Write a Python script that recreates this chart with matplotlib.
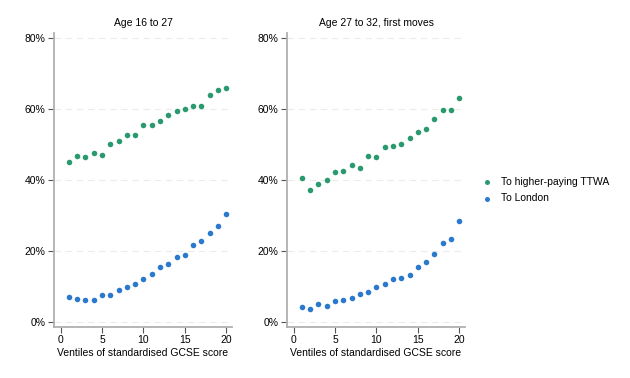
import numpy as np
import matplotlib
matplotlib.use("Agg")
import matplotlib.pyplot as plt
from matplotlib.ticker import FuncFormatter

# Ventiles of standardised GCSE score
ventiles = list(range(1, 21))

# Age 16 to 27 (share, %)
ttwa_young = [45.1, 46.9, 46.4, 47.5, 47.0, 50.1, 50.9, 52.6, 52.6, 55.6,
              55.6, 56.7, 58.4, 59.3, 60.1, 60.7, 60.9, 63.8, 65.3, 65.9]
london_young = [7.1, 6.5, 6.3, 6.4, 7.8, 7.6, 9.2, 10.0, 10.7, 12.3,
                13.7, 15.5, 16.5, 18.3, 19.0, 21.8, 23.0, 25.1, 27.2, 30.5]

# Age 27 to 32, first moves (share, %)
ttwa_old = [40.7, 37.2, 38.9, 40.1, 42.2, 42.6, 44.2, 43.3, 46.8, 46.6,
            49.2, 49.7, 50.1, 51.8, 53.4, 54.3, 57.3, 59.6, 59.6, 63.1]
london_old = [4.4, 3.8, 5.1, 4.7, 5.9, 6.3, 6.9, 7.9, 8.5, 9.8,
              10.8, 12.1, 12.5, 13.3, 15.5, 17.0, 19.2, 22.2, 23.5, 28.4]

titles = ["Age 16 to 27", "Age 27 to 32, first moves"]
series_labels = ["To higher-paying TTWA", "To London"]
green = "#2a9a6e"
blue = "#2b79cc"

plt.rcParams['font.family'] = ['Liberation Sans', 'DejaVu Sans']

fig = plt.figure(figsize=(6.3, 3.78), dpi=100)
ax1 = fig.add_axes([0.0857, 0.135, 0.2825, 0.778])
ax2 = fig.add_axes([0.4556, 0.135, 0.2825, 0.778])

panels = [(ax1, ttwa_young, london_young), (ax2, ttwa_old, london_old)]
for i, (ax, ttwa, london) in enumerate(panels):
    ax.scatter(ventiles, ttwa, s=16, color=green, linewidths=0, label=series_labels[0], zorder=3)
    ax.scatter(ventiles, london, s=16, color=blue, linewidths=0, label=series_labels[1], zorder=3)
    ax.set_xlim(-0.8, 20.7)
    ax.set_ylim(-1.3, 81.4)
    ax.set_xticks([0, 5, 10, 15, 20])
    ax.set_yticks([0, 20, 40, 60, 80])
    ax.yaxis.set_major_formatter(FuncFormatter(lambda v, p: f"{v:.0f}%"))
    ax.grid(axis='y', color='#ececec', linestyle=(0, (6, 4)), linewidth=0.8)
    ax.set_axisbelow(True)
    for s in ['top', 'right']:
        ax.spines[s].set_visible(False)
    for s in ['left', 'bottom']:
        ax.spines[s].set_color('#b0b0b0')
        ax.spines[s].set_linewidth(1.3)
    ax.tick_params(axis='both', labelsize=7.5, length=4, width=0.8, color='#555555', pad=2)
    ax.set_title(titles[i], fontsize=7.5, pad=5)
    ax.set_xlabel("Ventiles of standardised GCSE score", fontsize=7.5, labelpad=2)

handles, labels = ax1.get_legend_handles_labels()
fig.legend(handles, labels, loc='center left', bbox_to_anchor=(0.741, 0.497),
           frameon=False, fontsize=7.5, handletextpad=0.4, markerscale=0.9,
           labelspacing=0.6)

fig.savefig("out.png", dpi=100)
